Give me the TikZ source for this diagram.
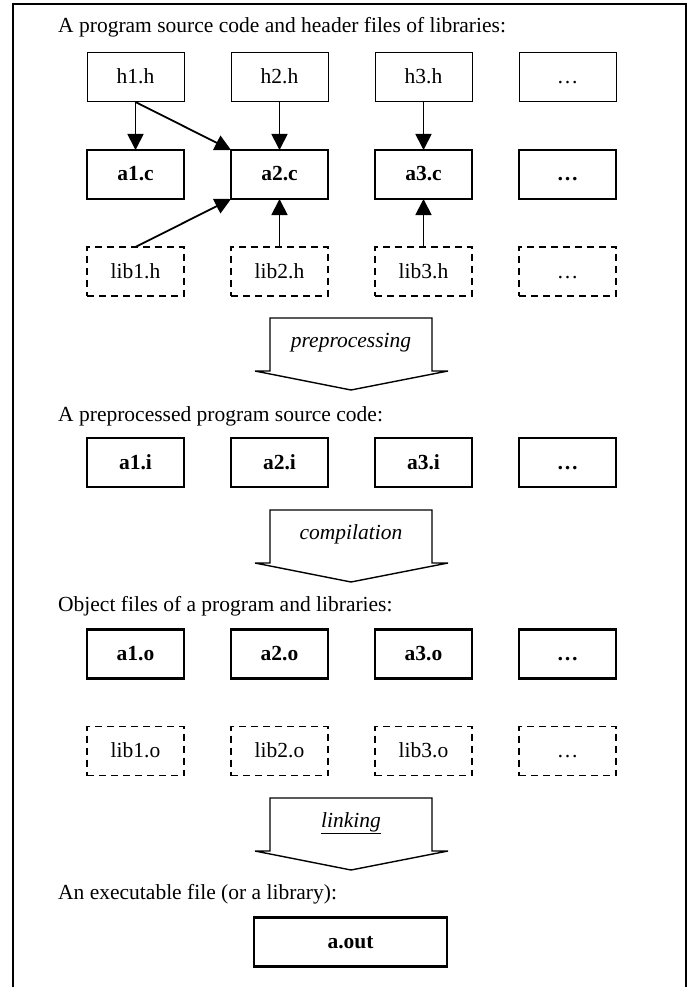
\documentclass[tikz,border=0pt]{standalone}
\usepackage{fontspec}
\setmainfont{Liberation Serif}
\usetikzlibrary{positioning, arrows.meta}

\begin{document}
\begin{tikzpicture}[
        x=1pt, y=1pt,
        node distance=48pt and 47pt,
        box/.style={rectangle, draw, outer sep=0pt, minimum width=97pt, minimum height=49pt, text height=13pt, text depth=0pt, align=center, font=\fontsize{21.5}{25}\selectfont},
        hbox/.style={box, line width=1pt},
        srcbox/.style={box, line width=2.2pt, font=\fontsize{21.5}{25}\selectfont\bfseries},
        libbox/.style={box, line width=1.6pt, dash pattern=on 7pt off 5pt},
        stagebox/.style={minimum width=162pt, minimum height=53pt, outer sep=0pt, inner sep=0pt, text height=13pt, text depth=8pt, font=\fontsize{21.5}{25}\selectfont\itshape},
        stage/.style={line width=1.4pt, line join=miter},
        caption/.style={anchor=base west, inner sep=0pt, font=\fontsize{21.5}{25}\selectfont},
        arrow/.style={-{Triangle[width=16pt, length=16pt]}, line width=1.8pt},
    ]
        \useasboundingbox (0,0) rectangle (692,-987);
        \draw[line width=1.3pt] (13,-995) |- (686,-4) -- (686,-995);

        % Sources and headers
        \node[caption] (t1) at (58,-33) {A program source code and header files of libraries:};
        \node[hbox] (h1) at (135.5,-77.5) {h1.h};
        \node[hbox, right=of h1] (h2) {h2.h};
        \node[hbox, right=of h2] (h3) {h3.h};
        \node[hbox, right=of h3] (h4) {…};

        \node[srcbox, below=of h1] (c1) {a1.c};
        \node[srcbox, below=of h2] (c2) {a2.c};
        \node[srcbox, below=of h3] (c3) {a3.c};
        \node[srcbox, below=of h4] (c4) {…};

        \node[libbox, below=of c1] (lh1) {lib1.h};
        \node[libbox, below=of c2] (lh2) {lib2.h};
        \node[libbox, below=of c3] (lh3) {lib3.h};
        \node[libbox, below=of c4] (lh4) {…};

        % Include arrows
        \draw[arrow] (h1) -- (c1);
        \draw[arrow] (h1.south) -- (c2.north west);
        \draw[arrow] (h2) -- (c2);
        \draw[arrow] (h3) -- (c3);
        \draw[arrow] (lh1.north) -- (c2.south west);
        \draw[arrow] (lh2) -- (c2);
        \draw[arrow] (lh3) -- (c3);

        % Preprocessing
        \node[stagebox] (pre) at (351,-344.5) {preprocessing};
        \draw[stage] (pre.south west) |- (pre.north east) -- (pre.south east) -- ++(16,0) -- ([yshift=-19pt]pre.south) -- ([xshift=-15pt]pre.south west) -- cycle;

        \node[caption] (t2) at (58,-421) {A preprocessed program source code:};
        \node[srcbox] (i1) at (135.5,-462.5) {a1.i};
        \node[srcbox, right=of i1] (i2) {a2.i};
        \node[srcbox, right=of i2] (i3) {a3.i};
        \node[srcbox, right=of i3] (i4) {…};

        % Compilation
        \node[stagebox] (comp) at (351,-536.5) {compilation};
        \draw[stage] (comp.south west) |- (comp.north east) -- (comp.south east) -- ++(16,0) -- ([yshift=-19pt]comp.south) -- ([xshift=-15pt]comp.south west) -- cycle;

        \node[caption] (t3) at (58,-611) {Object files of a program and libraries:};
        \node[srcbox] (o1) at (135.5,-654) {a1.o};
        \node[srcbox, right=of o1] (o2) {a2.o};
        \node[srcbox, right=of o2] (o3) {a3.o};
        \node[srcbox, right=of o3] (o4) {…};

        \node[libbox, below=of o1] (lo1) {lib1.o};
        \node[libbox, below=of o2] (lo2) {lib2.o};
        \node[libbox, below=of o3] (lo3) {lib3.o};
        \node[libbox, below=of o4] (lo4) {…};

        % Linking
        \node[stagebox] (link) at (351,-824.5) {\underline{linking}};
        \draw[stage] (link.south west) |- (link.north east) -- (link.south east) -- ++(16,0) -- ([yshift=-19pt]link.south) -- ([xshift=-15pt]link.south west) -- cycle;

        \node[caption] (t4) at (58,-899) {An executable file (or a library):};
        \node[srcbox, minimum width=193pt] (out) at (350.5,-942) {a.out};
    \end{tikzpicture}
\end{document}
